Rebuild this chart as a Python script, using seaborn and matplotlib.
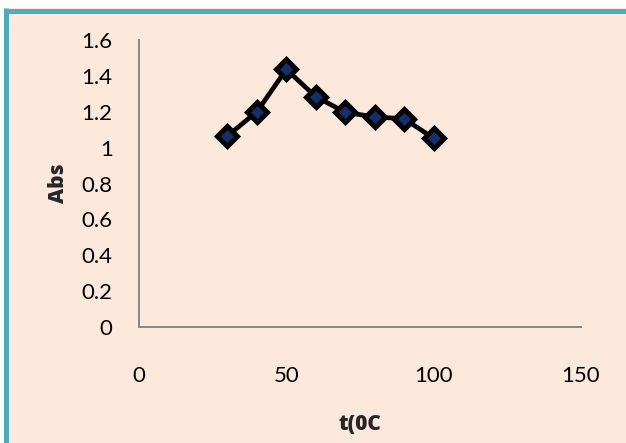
import matplotlib
matplotlib.use("Agg")
import matplotlib.pyplot as plt
from matplotlib.patches import Rectangle
from matplotlib.lines import Line2D
import seaborn as sns
import pandas as pd

# Data
temperature = [30, 40, 50, 60, 70, 80, 90, 100]
absorbance = [1.065, 1.200, 1.436, 1.284, 1.197, 1.171, 1.161, 1.052]
x_ticks = [0, 50, 100, 150]
y_ticks = [0, 0.2, 0.4, 0.6, 0.8, 1, 1.2, 1.4, 1.6]
y_tick_labels = ["0", "0.2", "0.4", "0.6", "0.8", "1", "1.2", "1.4", "1.6"]
x_label = "t(0C"
y_label = "Abs"

sns.set_style("white")
plt.rcParams["font.family"] = ["Lato", "DejaVu Sans"]

W, H = 626, 443
fig = plt.figure(figsize=(W / 100, H / 100), dpi=100)
fig.patch.set_facecolor("white")

peach = "#FDE9DB"
teal = "#4BACC6"

# chart area background + border (left and top visible)
fig.patches.append(Rectangle((4 / W, 0), 1, 1 - 8 / H, transform=fig.transFigure,
                             facecolor=peach, edgecolor="none", zorder=-2))
fig.lines.append(Line2D([6 / W, 6 / W], [0, 1 - 8 / H], transform=fig.transFigure,
                        color=teal, lw=3.6, solid_capstyle="butt", zorder=-1))
fig.lines.append(Line2D([4 / W, 1], [1 - 10.8 / H, 1 - 10.8 / H], transform=fig.transFigure,
                        color=teal, lw=3.6, solid_capstyle="butt", zorder=-1))

ax = fig.add_axes([139 / W, 1 - 327 / H, (581 - 139) / W, (327 - 40) / H])
ax.set_zorder(5)
ax.set_facecolor("none")

df = pd.DataFrame({"t": temperature, "Abs": absorbance})
sns.lineplot(data=df, x="t", y="Abs", ax=ax, color="black", lw=3.4,
             marker="D", markersize=10, markerfacecolor="#10306E",
             markeredgecolor="black", markeredgewidth=3.6, zorder=3, clip_on=False)

ax.set_xlim(0, 150)
ax.set_ylim(0, 1.6)
ax.set_xticks(x_ticks)
ax.set_yticks(y_ticks)
ax.set_yticklabels(y_tick_labels)
ax.tick_params(axis="both", length=0, labelsize=16, colors="black")
ax.tick_params(axis="y", pad=19)
ax.tick_params(axis="x", pad=28)

for s in ["top", "right"]:
    ax.spines[s].set_visible(False)
for s in ["left", "bottom"]:
    ax.spines[s].set_color("#878787")
    ax.spines[s].set_linewidth(1.4)

ax.set_xlabel("")
ax.set_ylabel("")
fig.text(360 / W, 1 - 424 / H, x_label, ha="center", va="center",
         fontsize=15, fontweight="heavy", family=["Open Sans", "DejaVu Sans"])
fig.text(58 / W, 1 - 183 / H, y_label, ha="center", va="center",
         fontsize=15, fontweight="heavy", rotation=90, family=["Open Sans", "DejaVu Sans"])

fig.savefig("out.png", dpi=100, facecolor=fig.get_facecolor())
